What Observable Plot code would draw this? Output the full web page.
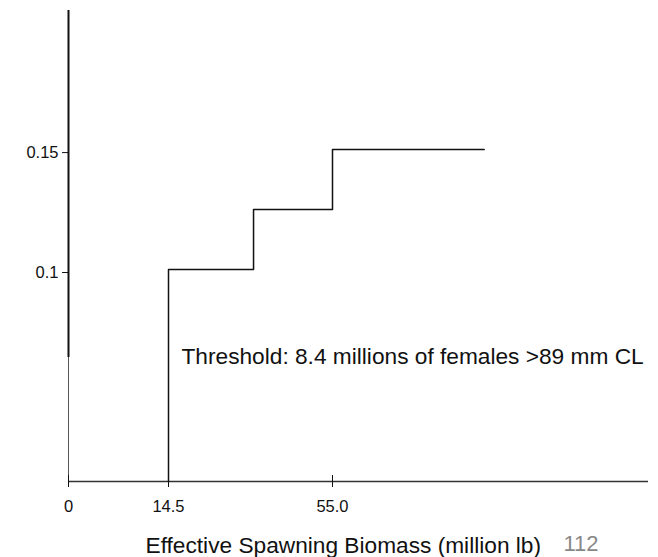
<!DOCTYPE html>
<html><head><meta charset="utf-8">
<script src="https://cdn.jsdelivr.net/npm/d3@7"></script>
<script src="https://cdn.jsdelivr.net/npm/@observablehq/plot@0.6"></script>
<style>body{margin:0;background:#fff;} svg{overflow:hidden}</style>
</head><body><div id="chart"></div>
<script>
// Data
const stepX = [14.5, 14.5, 35.5, 55.0, 91];
const stepY = [0, 0.1, 0.125, 0.15, 0.15];
const xTicks = [0, 14.5, 55.0];
const xTickLabels = ["0", "14.5", "55.0"];
const yTicks = [0.1, 0.15];
const yTickLabels = ["0.1", "0.15"];
const xBreaks = [0, 14.5, 55.0, 130];
const yBreaks = [0, 0.1, 0.208];
const thresholdLabel = "Threshold: 8.4 millions of females >89 mm CL";
const xTitle = "Effective Spawning Biomass (million lb)";
const pageNumber = "112";

const steps = stepX.map((x, i) => ({x, y: stepY[i]}));

const chart = Plot.plot({
  width: 658,
  height: 557,
  marginLeft: 68,
  marginRight: 10,
  marginTop: 10,
  marginBottom: 76,
  style: {fontFamily: "'Liberation Sans', Arial, sans-serif", fontSize: "16px", background: "white", color: "#111"},
  x: {type: "linear", domain: xBreaks, range: [68, 168, 332, 648]},
  y: {type: "linear", domain: yBreaks, range: [481, 269, 10]},
  marks: [
    Plot.ruleX([0], {x: d => d, insetBottom: 124, strokeWidth: 2, stroke: "#111"}),
    Plot.ruleX([0], {x: d => d, insetTop: 347, stroke: "#555", strokeWidth: 1}),
    Plot.ruleY([0], {y: d => d, stroke: "#333", strokeWidth: 1.5}),
    Plot.ruleX(xTicks, {x: d => d, insetTop: 465, insetBottom: -6, stroke: "#111"}),
    Plot.line(steps, {x: "x", y: "y", curve: "step-after", stroke: "#111", strokeWidth: 1.5}),
    Plot.axisY({ticks: yTicks, tickSize: 6, tickPadding: 4, dy: 3,
      tickFormat: d => yTickLabels[yTicks.indexOf(d)], fontSize: 16.5, label: null}),
    Plot.axisX({ticks: xTicks, tickSize: 0, tickPadding: 19,
      tickFormat: d => xTickLabels[xTicks.indexOf(d)], fontSize: 16.5, label: null}),
    Plot.text([thresholdLabel], {text: d => d, frameAnchor: "top-left", dx: 113, dy: 346,
      textAnchor: "start", lineAnchor: "middle", fontSize: 22.7, fill: "#111"}),
    Plot.text([xTitle], {text: d => d, frameAnchor: "bottom-left", dx: 77, dy: 64,
      textAnchor: "start", lineAnchor: "middle", fontSize: 22.7, fill: "#111"}),
    Plot.text([pageNumber], {text: d => d, frameAnchor: "bottom-left", dx: 495, dy: 62,
      textAnchor: "start", lineAnchor: "middle", fontSize: 22, fill: "#888"})
  ]
});
document.getElementById("chart").appendChild(chart);
</script>
</body></html>
